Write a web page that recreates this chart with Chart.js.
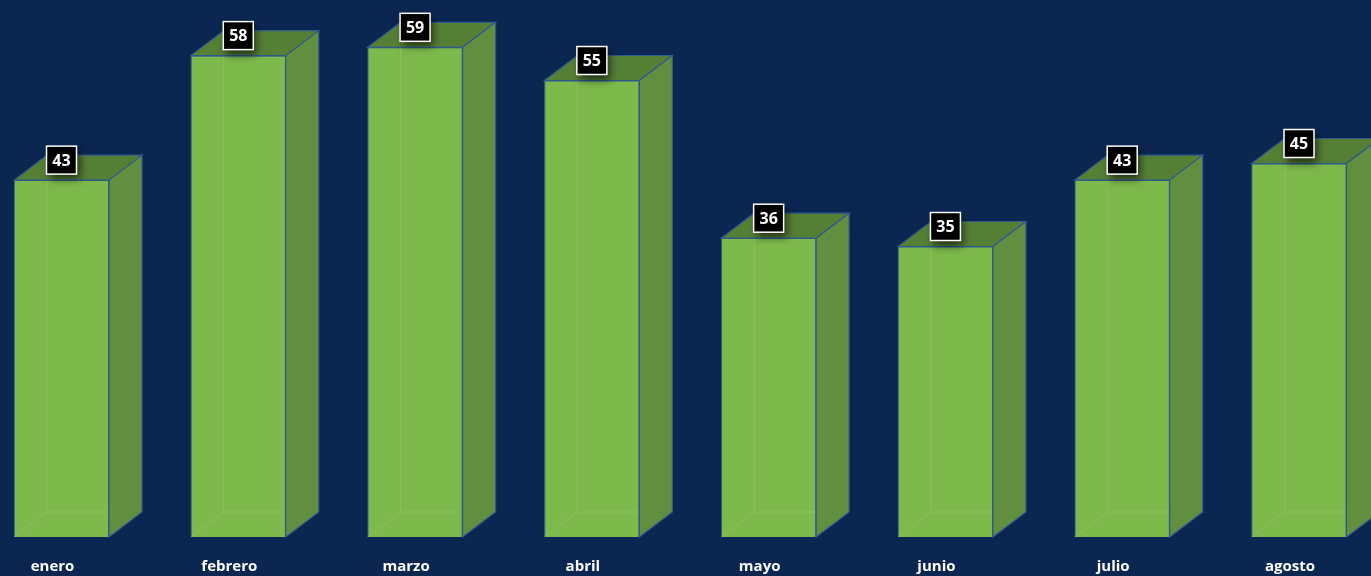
<!DOCTYPE html>
<html>
<head>
<meta charset="utf-8">
<script src="https://cdn.jsdelivr.net/npm/chart.js@4.4.1/dist/chart.umd.min.js"></script>
<style>
    html, body { margin: 0; padding: 0; background: #0b2650; }
    #wrap { width: 1371px; height: 576px; position: relative; }
</style>
</head>
<body>
<div id="wrap"><canvas id="chart"></canvas></div>
<script>
var months = ["enero", "febrero", "marzo", "abril", "mayo", "junio", "julio", "agosto"];
var visits = [43, 58, 59, 55, 36, 35, 43, 45];

var depth = { dx: 33, dy: 25 },
    colors = {
        front: "#7db94b",
        top: "#567f36",
        side: "#628f3f",
        edge: "#2f5a8f"
    };

// draws the top and side faces of each bar, plus the labels
var box3d = {
    id: "box3d",
    afterDatasetsDraw: function(chart) {
        var ctx = chart.ctx,
            meta = chart.getDatasetMeta(0);

        ctx.save();
        meta.data.forEach(function(bar) {
            var p = bar.getProps(["x", "y", "base", "width"], true),
                l = p.x - p.width / 2,
                r = p.x + p.width / 2,
                t = p.y,
                b = p.base;

            // faint back edges seen through the front
            ctx.strokeStyle = "rgba(170, 210, 130, 0.35)";
            ctx.lineWidth = 1;
            ctx.beginPath();
            ctx.moveTo(l + depth.dx, t - depth.dy);
            ctx.lineTo(l + depth.dx, b - depth.dy);
            ctx.lineTo(r + depth.dx, b - depth.dy);
            ctx.moveTo(l + depth.dx, b - depth.dy);
            ctx.lineTo(l, b);
            ctx.stroke();

            ctx.strokeStyle = colors.edge;
            ctx.lineWidth = 1.2;

            ctx.fillStyle = colors.top;
            ctx.beginPath();
            ctx.moveTo(l, t);
            ctx.lineTo(l + depth.dx, t - depth.dy);
            ctx.lineTo(r + depth.dx, t - depth.dy);
            ctx.lineTo(r, t);
            ctx.closePath();
            ctx.fill();
            ctx.stroke();

            ctx.fillStyle = colors.side;
            ctx.beginPath();
            ctx.moveTo(r, t);
            ctx.lineTo(r + depth.dx, t - depth.dy);
            ctx.lineTo(r + depth.dx, b - depth.dy);
            ctx.lineTo(r, b);
            ctx.closePath();
            ctx.fill();
            ctx.stroke();
        });

        meta.data.forEach(function(bar, i) {
            var p = bar.getProps(["x", "y"], true),
                cy = p.y - 20,
                w = 30,
                h = 28;

            ctx.save();
            ctx.shadowColor = "rgba(0, 0, 0, 0.6)";
            ctx.shadowBlur = 8;
            ctx.shadowOffsetX = 3;
            ctx.shadowOffsetY = 5;
            ctx.fillStyle = "#000";
            ctx.fillRect(p.x - w / 2, cy - h / 2, w, h);
            ctx.restore();

            ctx.strokeStyle = "#ffffff";
            ctx.lineWidth = 1.5;
            ctx.strokeRect(p.x - w / 2, cy - h / 2, w, h);

            ctx.fillStyle = "#ffffff";
            ctx.font = "bold 16px 'Open Sans', sans-serif";
            ctx.textAlign = "center";
            ctx.textBaseline = "middle";
            ctx.fillText(visits[i], p.x, cy + 1);

            ctx.font = "bold 15px 'Open Sans', sans-serif";
            ctx.fillText(months[i], p.x - 9, 567);
        });
        ctx.restore();
    }
};

new Chart(document.getElementById("chart"), {
    type: "bar",
    data: {
        labels: months,
        datasets: [{
            data: visits,
            backgroundColor: colors.front,
            borderColor: colors.edge,
            borderWidth: 1.2,
            barThickness: 95,
            clip: false
        }]
    },
    options: {
        responsive: true,
        maintainAspectRatio: false,
        animation: false,
        layout: {
            padding: { left: 61.5, right: 72, top: 0, bottom: 39 }
        },
        plugins: {
            legend: { display: false },
            tooltip: { enabled: false }
        },
        scales: {
            x: { display: false, offset: false },
            y: { display: false, min: 0, max: 64.7 }
        }
    },
    plugins: [box3d]
});
</script>
</body>
</html>
